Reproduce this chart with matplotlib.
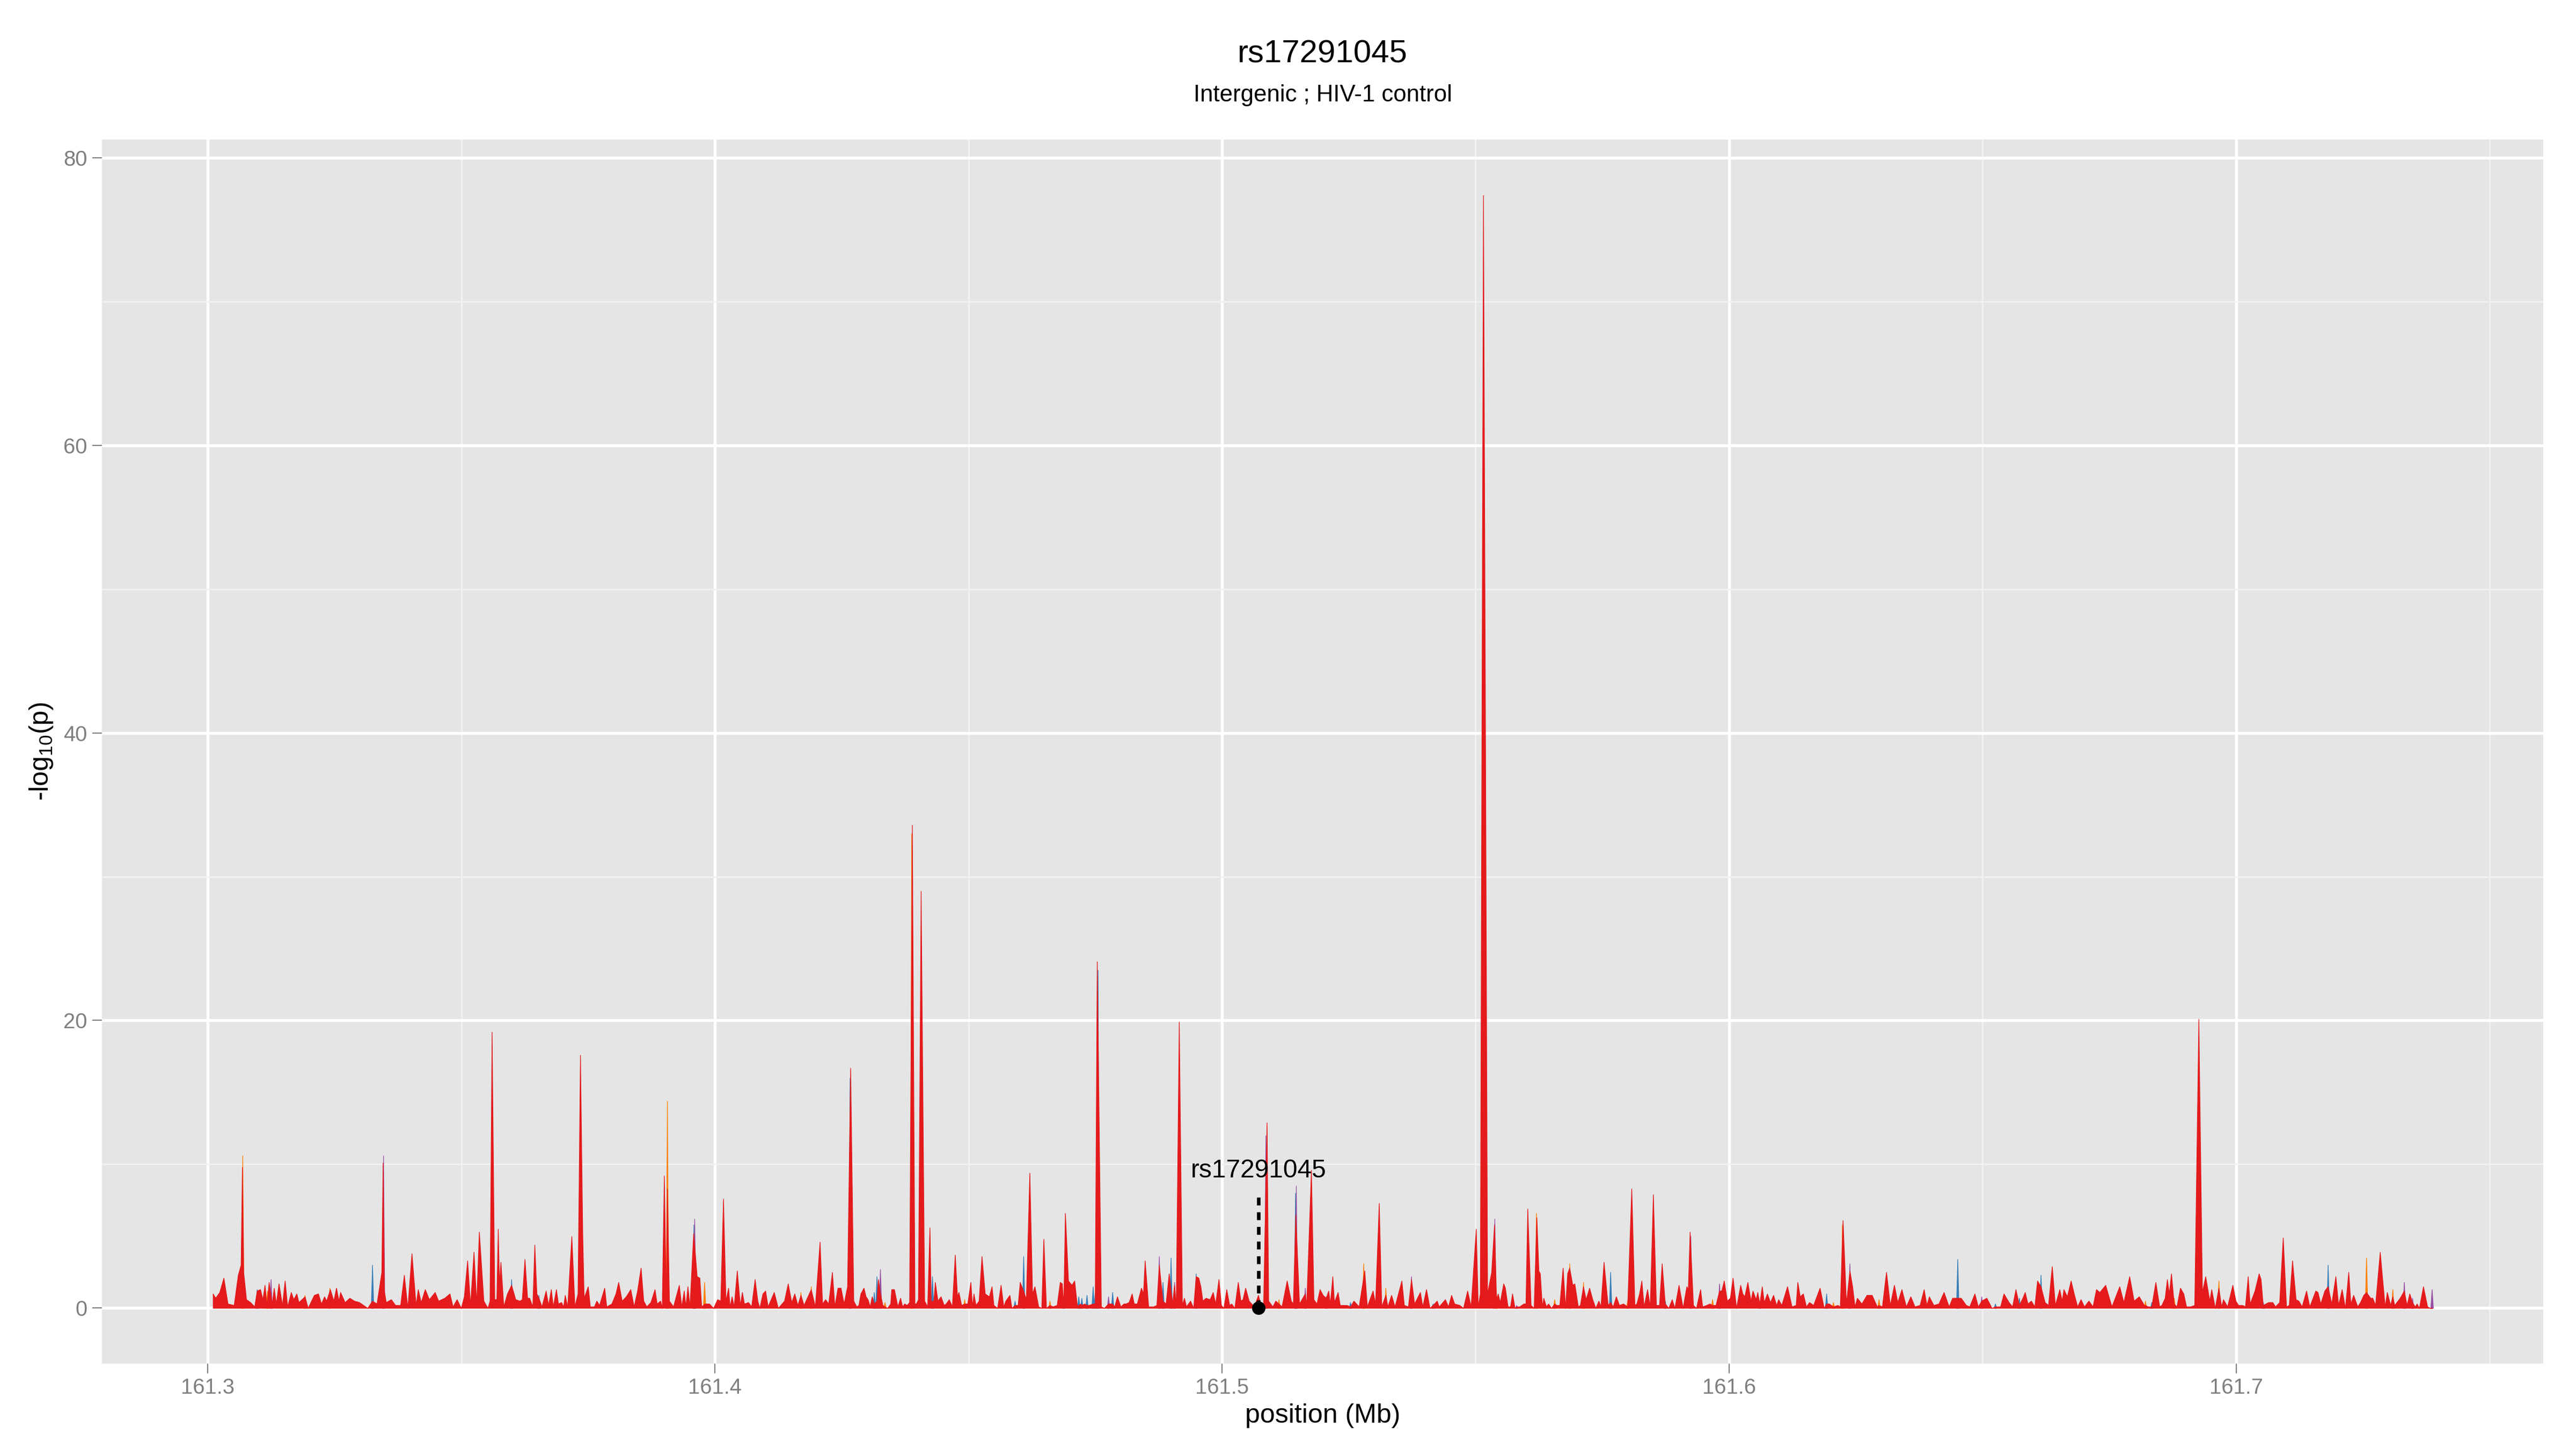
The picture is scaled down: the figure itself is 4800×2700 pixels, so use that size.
import numpy as np
import matplotlib
matplotlib.use("Agg")
import matplotlib.pyplot as plt

plt.rcParams['font.family'] = ['Liberation Sans', 'DejaVu Sans']
plt.rcParams['mathtext.fontset'] = 'custom'
plt.rcParams['mathtext.rm'] = 'Liberation Sans'

# ---------------- data (positions in kb offset from 161.300 Mb) ----------------
base_mb = 161.300

red_kb = [0.99, 1.48, 2.29, 3.10, 3.91, 5.13, 5.94, 6.50, 6.75, 7.00, 7.56, 8.37, 9.18, 9.67, 10.32, 10.80, 11.21,
          11.61, 12.02, 12.63, 13.03, 13.44, 13.97, 14.65, 15.18, 15.67, 16.40, 16.88, 17.49, 17.90, 19.11,
          19.72, 20.94, 21.75, 22.35, 22.96, 23.37, 24.10, 24.79, 25.31, 25.80, 26.12, 27.01, 27.95, 28.84,
          29.85, 30.66, 31.47, 32.41, 33.30, 34.25, 34.50, 34.75, 35.12, 36.13, 36.95, 37.96, 38.69, 39.38, 40.19,
          41.00, 41.44, 42.01, 42.82, 43.63, 44.77, 45.46, 46.67, 47.69, 48.29, 49.10, 49.92, 50.52, 51.17,
          51.74, 52.43, 52.95, 53.48, 54.37, 55.18, 55.59, 55.99, 56.52, 56.93, 57.21, 57.45, 57.74, 58.30,
          59.03, 59.84, 60.66, 61.47, 61.95, 62.48, 63.00, 63.41, 64.02, 64.42, 64.83, 65.23, 65.84, 66.65,
          67.14, 67.67, 68.07, 68.68, 69.08, 69.69, 70.10, 70.42, 70.91, 71.72, 72.33, 72.94, 73.42, 73.87,
          74.15, 74.96, 75.37, 76.18, 76.66, 77.19, 78.20, 78.61, 79.62, 80.43, 80.96, 81.65, 82.46, 83.35,
          84.00, 84.69, 85.38, 85.90, 86.51, 87.32, 88.13, 88.54, 89.23, 89.55, 89.96, 90.36, 90.57, 90.97,
          91.78, 92.92, 93.40, 93.89, 94.21, 94.62, 95.02, 95.75, 96.44, 96.97, 97.33, 97.98, 98.87, 99.68,
          100.49, 101.10, 101.63, 102.12, 102.64, 102.93, 103.33, 103.74, 104.35, 104.95, 105.36, 105.76,
          106.57, 107.18, 107.87, 108.40, 108.80, 109.41, 109.94, 110.43, 111.64, 112.45, 113.67, 114.40,
          115.09, 115.69, 116.30, 116.91, 117.52, 118.94, 119.75, 120.68, 121.17, 121.77, 122.38, 123.11,
          123.60, 124.21, 124.81, 125.42, 126.10, 126.71, 127.32, 127.92, 128.33, 128.73, 129.34, 129.75,
          130.15, 130.56, 130.96, 131.37, 131.90, 132.18, 132.58, 133.07, 133.48, 134.00, 134.61, 134.81,
          135.34, 136.03, 136.56, 136.96, 137.37, 137.85, 138.34, 138.87, 139.39, 139.68, 140.08, 140.61,
          141.30, 141.90, 142.35, 142.60, 142.84, 143.12, 143.41, 143.93, 144.54, 145.15, 145.55, 146.16,
          146.77, 147.34, 147.78, 148.07, 148.59, 149.20, 149.81, 150.42, 150.74, 151.03, 151.43, 152.04,
          152.61, 153.25, 154.07, 154.59, 154.96, 155.69, 156.38, 156.90, 157.31, 158.12, 158.52, 159.13,
          159.74, 160.15, 160.47, 160.83, 161.36, 162.05, 162.58, 163.06, 163.79, 164.40, 164.81, 165.33,
          166.02, 166.63, 167.44, 168.05, 168.45, 168.74, 169.06, 169.67, 170.36, 170.89, 171.41, 171.70,
          172.10, 172.30, 172.91, 173.32, 173.72, 174.53, 174.94, 175.34, 176.15, 176.76, 177.57, 178.38,
          178.79, 179.32, 180.00, 180.61, 181.02, 181.63, 182.23, 182.64, 183.25, 184.06, 184.46, 184.79,
          185.48, 186.49, 187.10, 187.58, 188.31, 188.92, 189.53, 190.20, 190.59, 190.92, 191.52, 192.13,
          192.54, 192.94, 193.75, 194.36, 194.85, 195.37, 195.78, 196.18, 196.79, 197.60, 198.21, 198.70,
          199.35, 199.83, 200.32, 200.89, 201.45, 201.86, 202.47, 203.16, 203.68, 204.09, 204.61, 205.30,
          206.32, 207.13, 207.74, 208.14, 208.83, 209.15, 209.97, 210.57, 211.18, 211.79, 212.80, 213.61,
          214.02, 214.50, 215.23, 216.37, 216.65, 217.58, 218.07, 218.68, 219.29, 219.89, 220.50, 220.99,
          221.31, 221.80, 222.12, 222.85, 223.26, 223.95, 224.64, 225.29, 225.97, 226.99, 228.10, 228.61,
          229.74, 230.23, 230.96, 231.45, 232.26, 232.66, 233.39, 234.08, 235.42, 235.90, 236.71, 237.32,
          237.93, 239.07, 239.55, 240.28, 240.97, 241.58, 242.39, 242.79, 244.01, 244.62, 245.23, 245.83,
          246.85, 247.58, 248.39, 249.08, 250.09, 250.49, 250.90, 251.51, 252.32, 253.13, 253.69, 254.09,
          254.42, 254.82, 255.51, 255.83, 256.36, 256.85, 257.25, 257.74, 258.06, 258.67, 259.48, 259.89,
          260.25, 260.90, 261.51, 262.04, 262.44, 262.72, 263.13, 263.41, 263.94, 264.35, 264.95, 265.56,
          265.97, 266.57, 267.22, 267.71, 268.12, 268.52, 269.13, 269.53, 270.22, 270.63, 271.24, 271.76,
          272.45, 273.06, 273.67, 274.28, 274.68, 275.29, 276.10, 276.59, 277.11, 277.72, 278.33, 279.14,
          279.95, 280.76, 281.37, 281.77, 282.30, 282.75, 283.19, 283.88, 284.41, 285.02, 285.62, 286.23,
          286.76, 287.37, 288.06, 288.74, 289.27, 290.08, 290.89, 291.62, 291.91, 292.27, 292.92, 293.53,
          294.34, 294.74, 295.55, 296.16, 296.69, 297.38, 298.07, 298.51, 299.00, 299.61, 300.21, 300.74,
          301.43, 302.24, 302.65, 303.05, 303.66, 304.27, 304.67, 305.28, 305.61, 306.01, 306.50, 306.90,
          307.51, 308.12, 308.73, 309.33, 309.74, 310.35, 311.48, 312.37, 313.18, 313.51, 313.99, 314.60,
          315.21, 315.82, 316.63, 317.90, 318.71, 319.19, 319.73, 320.54, 321.41, 321.89, 322.43, 323.10,
          323.78, 324.32, 324.79, 325.26, 326.14, 327.16, 328.17, 329.18, 329.52, 330.19, 331.00, 331.75,
          332.56, 333.23, 334.04, 334.92, 335.80, 336.61, 337.62, 338.43, 338.97, 339.45, 340.33, 341.34,
          342.35, 343.36, 344.04, 345.05, 345.73, 346.74, 347.42, 348.43, 349.11, 349.78, 350.79, 351.81,
          352.48, 353.50, 354.17, 355.18, 355.86, 356.53, 357.21, 357.89, 358.36, 358.90, 359.57, 360.25,
          360.79, 361.47, 362.28, 362.95, 363.69, 364.30, 365.18, 365.65, 365.99, 366.67, 367.41, 368.02,
          368.69, 369.37, 370.04, 370.92, 371.73, 372.41, 373.08, 374.23, 375.45, 377.00, 377.81, 378.96,
          379.84, 380.85, 381.86, 382.07, 382.61, 383.31, 384.12, 384.88, 385.31, 385.96, 386.39, 386.77,
          387.20, 387.74, 388.28, 388.98, 389.63, 390.17, 390.98, 391.79, 392.60, 393.30, 393.95, 394.76,
          395.14, 395.84, 396.55, 397.09, 397.46, 398.27, 399.30, 399.90, 400.44, 401.25, 401.79, 402.33,
          402.71, 403.68, 404.49, 404.87, 405.30, 406.38, 407.19, 407.73, 408.54, 409.24, 409.89, 410.43,
          411.08, 411.78, 412.32, 412.97, 413.84, 414.48, 415.67, 416.10, 416.64, 417.45, 418.10, 418.81,
          419.62, 420.16, 420.86, 421.51, 422.16, 422.59, 423.13, 423.94, 424.48, 425.13, 425.67, 426.48,
          426.91, 427.45, 428.37, 429.34, 429.77, 430.42, 430.85, 431.23, 432.31, 433.12, 433.66, 434.20,
          434.74, 435.28, 435.66, 436.09, 436.90, 437.71, 438.25, 438.69]

red_val = [1.0, 0.7, 1.1, 2.1, 0.3, 0.2, 2.3, 3.0, 9.8, 2.5, 0.6, 0.4, 0.1, 1.2, 1.3, 0.6, 1.6,
           0.2, 1.8, 0.3, 1.4, 0.3, 1.7, 0.2, 1.9, 0.1, 1.1, 0.6, 1.0, 0.4, 0.8,
           0.0, 0.9, 1.0, 0.3, 0.8, 0.5, 1.3, 0.5, 1.4, 0.5, 1.1, 0.4, 0.7, 0.5,
           0.4, 0.2, 0.0, 0.5, 0.3, 2.5, 10.1, 1.2, 0.4, 0.6, 0.2, 0.2, 2.3, 0.0, 3.8,
           0.2, 1.3, 0.4, 1.3, 0.6, 1.1, 0.5, 0.7, 1.0, 0.1, 0.6, 0.0, 0.8, 3.3,
           0.2, 3.9, 0.3, 5.3, 0.5, 0.0, 0.5, 19.2, 0.6, 0.6, 5.5, 1.7, 3.2, 0.1,
           1.0, 1.6, 0.6, 0.5, 0.6, 3.4, 0.7, 0.7, 0.1, 4.4, 1.0, 0.7, 0.1, 1.2,
           0.2, 1.3, 0.1, 1.3, 0.3, 0.4, 0.1, 0.9, 0.1, 5.0, 0.1, 1.0, 17.6, 5.1,
           0.7, 1.5, 0.1, 0.1, 0.5, 0.2, 1.4, 0.1, 0.3, 1.0, 1.8, 0.5, 0.8, 1.3,
           0.1, 1.2, 2.8, 0.5, 0.1, 0.4, 1.3, 0.3, 0.5, 0.0, 9.2, 0.5, 8.3, 0.5,
           0.1, 1.6, 0.1, 1.2, 0.1, 1.5, 0.1, 5.2, 2.2, 2.1, 0.1, 0.3, 0.3, 0.0,
           0.6, 0.5, 7.6, 0.5, 1.4, 0.1, 0.8, 0.1, 2.6, 0.2, 1.1, 0.3,
           0.4, 0.1, 2.0, 0.5, 0.0, 1.0, 1.2, 0.1, 1.1, 0.0, 0.5, 1.7,
           0.4, 1.0, 0.2, 0.9, 0.2, 1.3, 0.1, 4.6, 0.3, 0.6, 0.3, 2.5,
           0.1, 1.4, 1.4, 0.3, 1.5, 16.7, 0.5, 0.1, 0.2, 1.0, 1.4, 0.8,
           0.6, 0.1, 0.8, 0.3, 0.5, 2.0, 1.0, 0.2, 0.1, 0.0, 0.3, 1.3,
           1.3, 0.1, 0.7, 0.1, 0.3, 0.2, 0.4, 33.6, 0.3, 0.3, 0.6, 29.0,
           0.5, 0.1, 5.6, 0.4, 0.5, 0.5, 1.8, 0.5, 0.8, 0.2, 0.3, 0.6,
           0.1, 3.7, 0.8, 1.1, 0.2, 0.3, 0.3, 1.8, 0.1, 1.0, 0.2, 0.5,
           3.6, 1.0, 0.8, 1.5, 0.2, 0.0, 1.6, 0.1, 0.5, 0.9, 0.0, 0.2,
           0.2, 1.8, 1.5, 1.2, 0.6, 9.4, 1.0, 1.5, 0.1, 0.0, 4.8, 0.0,
           0.2, 0.1, 0.2, 1.8, 1.7, 0.2, 6.6, 1.9, 1.6, 1.9, 0.2, 0.2,
           0.3, 0.2, 0.3, 0.2, 0.2, 0.3, 0.3, 24.1, 0.1, 0.0, 0.3, 0.3,
           0.1, 0.8, 0.1, 0.3, 0.3, 0.4, 1.0, 0.3, 0.3, 1.4, 1.0, 3.3,
           0.1, 0.1, 0.2, 3.0, 0.5, 0.3, 2.4, 0.3, 1.6, 0.1, 19.9, 0.2,
           0.7, 0.1, 0.5, 0.0, 2.2, 2.1, 1.5, 0.5, 0.7, 0.6, 1.1, 0.3,
           2.0, 0.2, 0.0, 1.3, 0.2, 0.3, 0.0, 1.8, 0.5, 0.6, 1.4, 0.5,
           0.1, 0.9, 0.1, 0.0, 12.9, 0.5, 0.1, 0.5, 0.3, 0.1, 1.9, 0.5,
           0.3, 6.5, 0.3, 1.0, 0.2, 9.6, 0.6, 0.3, 1.3, 0.9, 0.7, 1.2,
           0.3, 2.2, 0.4, 1.1, 0.2, 0.2, 0.2, 0.1, 0.5, 0.1, 2.6, 0.1,
           1.2, 0.3, 7.3, 0.1, 0.9, 0.1, 0.9, 0.1, 1.9, 0.2, 0.1, 2.0,
           0.3, 1.1, 0.1, 1.3, 0.0, 0.2, 0.5, 0.1, 0.6, 0.1, 0.9, 0.3,
           0.2, 0.0, 1.2, 0.1, 5.5, 0.1, 1.0, 77.4, 1.0, 2.5, 5.8, 0.6,
           1.0, 0.4, 1.7, 1.4, 0.1, 0.1, 1.0, 0.0, 0.1, 0.1, 0.3, 0.3,
           6.9, 0.2, 0.0, 6.3, 2.6, 2.4, 0.1, 0.7, 0.1, 0.3, 0.0, 0.3,
           0.2, 0.2, 2.8, 0.0, 2.4, 2.8, 1.6, 1.7, 0.1, 0.2, 1.5, 0.6,
           1.4, 0.6, 0.0, 0.5, 0.1, 3.2, 0.2, 0.4, 0.1, 0.8, 0.2, 0.3,
           0.1, 8.3, 0.2, 0.3, 1.0, 1.9, 0.1, 1.3, 0.1, 7.9, 0.2, 0.2,
           3.1, 0.3, 0.0, 0.6, 0.0, 1.6, 0.0, 1.5, 1.3, 5.3, 0.2, 0.0,
           1.3, 0.1, 0.2, 0.3, 0.2, 0.2, 1.2, 1.2, 1.9, 0.5, 0.7, 2.1,
           0.0, 1.6, 1.0, 0.8, 1.8, 0.5, 1.2, 0.6, 1.1, 0.3, 1.5, 0.4,
           1.0, 0.4, 0.9, 0.2, 0.6, 0.2, 1.5, 0.1, 0.2, 1.8, 0.8, 1.0,
           0.1, 0.4, 0.2, 1.4, 0.0, 0.3, 0.3, 0.1, 0.2, 0.1, 6.1, 0.3,
           2.6, 1.5, 0.1, 0.7, 0.3, 0.9, 0.9, 0.1, 0.2, 0.1, 2.5, 0.2,
           1.6, 0.4, 1.3, 0.1, 0.8, 0.1, 0.2, 1.3, 0.2, 0.8, 0.2, 0.3,
           1.1, 0.1, 0.7, 0.7, 0.7, 0.2, 0.1, 1.0, 0.1, 0.5, 0.7, 0.0,
           0.1, 0.1, 1.0, 0.4, 0.1, 1.3, 0.2, 0.7, 1.1, 0.3, 0.5, 0.1,
           1.9, 1.5, 0.4, 0.2, 2.9, 0.2, 1.3, 0.5, 1.3, 0.8, 1.9, 1.0,
           0.1, 0.6, 0.1, 0.5, 0.1, 1.3, 1.1, 1.6, 0.1, 1.5, 0.4, 2.2,
           0.5, 0.8, 0.2, 0.2, 0.1, 0.1, 1.8, 0.1, 0.2, 0.7, 2.0, 1.0,
           2.4, 0.3, 0.1, 1.4, 1.0, 0.1, 0.1, 0.2, 20.1, 1.1, 2.2, 0.5,
           1.3, 0.0, 1.4, 0.1, 0.6, 0.1, 1.6, 0.5, 0.2, 0.2, 0.1, 2.2,
           0.3, 1.2, 2.4, 2.0, 0.2, 0.4, 0.4, 0.1, 0.4, 4.9, 0.1, 0.2,
           3.3, 0.6, 0.5, 0.1, 1.2, 0.1, 1.2, 1.1, 0.3, 1.2, 1.5, 0.3,
           2.2, 0.2, 1.3, 0.0, 2.5, 0.3, 0.9, 0.1, 0.4, 0.9, 1.1, 0.7,
           0.7, 0.2, 3.9, 0.1, 1.1, 0.2, 0.8, 0.2, 0.7, 1.2, 0.2, 1.0,
           0.4, 0.1, 0.3, 0.0, 1.5, 0.1, 0.0, 0.0]

orange_kb = [6.82, 11.7, 19.1, 24.0, 90.57, 97.9, 116.9, 118.94, 133.48, 138.75, 149.2, 166.02,
             211.18, 227.9, 232.26, 254.09, 261.95, 265.56, 268.52, 271.24, 279.95, 296.69, 320.54,
             322.3, 329.52, 382.07, 387.74, 396.55, 425.67, 430.85]
orange_val = [10.6, 1.2, 0.9, 1.4, 14.4, 1.8, 1.1, 1.5, 0.4, 33.0, 0.6, 0.5,
              0.6, 3.1, 1.4, 0.9, 6.6, 0.6, 3.1, 1.8, 0.5, 0.6, 0.4,
              5.8, 0.6, 0.5, 0.7, 1.9, 3.5, 1.3]

blue_kb = [9.67, 32.41, 59.84, 65.23, 95.8, 126.6, 131.37, 131.9, 142.84, 159.13, 160.83, 168.74,
           171.7, 172.3, 173.32, 174.53, 174.94, 175.5, 178.38, 188.31, 189.9, 194.85, 214.45,
           225.29, 241.58, 276.59, 287.37, 306.01, 319.19, 345.05, 352.48, 357.21, 361.47, 383.31,
           405.3, 418.1]
blue_val = [1.3, 3.0, 2.0, 0.9, 5.8, 16.0, 1.1, 2.2, 2.2, 0.5, 3.6, 0.3,
            0.8, 0.7, 0.9, 1.5, 1.0, 23.5, 1.1, 1.8, 3.5, 2.4, 8.0,
            0.4, 0.3, 2.5, 0.5, 0.5, 1.0, 3.4, 0.3, 0.7, 2.3, 0.4,
            0.4, 3.0]

purple_kb = [12.4, 34.58, 95.95, 132.58, 177.57, 187.58, 190.59, 208.6, 214.6, 216.37, 220.5,
             237.32, 253.75, 258.06, 292.4, 298.07, 323.78, 349.78, 433.12, 434.74, 438.6]
purple_val = [2.0, 10.6, 6.2, 2.7, 0.8, 3.6, 1.8, 12.0, 8.5, 1.4, 0.8,
              2.2, 6.2, 0.2, 5.0, 1.7, 3.1, 0.8, 1.8, 0.7, 1.3]

snp_name = "rs17291045"
snp_pos_mb = 161.5072
snp_line_top = 7.7
snp_label_y = 9.55

title = "rs17291045"
subtitle = "Intergenic ; HIV-1 control"
x_ticks = [161.3, 161.4, 161.5, 161.6, 161.7]
y_ticks = [0, 20, 40, 60, 80]

# ---------------- styling ----------------
C_RED, C_BLUE, C_PURPLE, C_ORANGE = "#E41A1C", "#377EB8", "#984EA3", "#FF7F00"
spike_half_kb = 0.25

def to_mb(kb):
    return base_mb + np.asarray(kb) / 1000.0

fig = plt.figure(figsize=(16, 9), dpi=300)
W, H = 4800, 2700
pl, pr, pt, pb = 190, 4739, 260, 2541
ax = fig.add_axes([pl / W, 1 - pb / H, (pr - pl) / W, (pb - pt) / H])
ax.set_facecolor("#E5E5E5")

rx = to_mb(red_kb)
ry = np.asarray(red_val)
xmin, xmax = rx.min(), rx.max()
xr = xmax - xmin
ymax = ry.max()
ax.set_xlim(xmin - 0.05 * xr, xmax + 0.05 * xr)
ax.set_ylim(-0.05 * ymax, ymax * 1.05)

ax.set_xticks(x_ticks)
ax.set_xticklabels([f"{v:.1f}" for v in x_ticks])
ax.set_xticks([161.35, 161.45, 161.55, 161.65, 161.75], minor=True)
ax.set_yticks(y_ticks)
ax.set_yticks([10, 30, 50, 70], minor=True)
ax.grid(which="major", color="white", linewidth=1.3)
ax.grid(which="minor", color="#F2F2F2", linewidth=0.65)
ax.set_axisbelow(True)
for s in ax.spines.values():
    s.set_visible(False)
ax.tick_params(which="major", length=4.25, width=0.5, color="#7F7F7F",
               labelcolor="#7F7F7F", labelsize=9.6)
ax.tick_params(axis="y", which="major", pad=2.4)
ax.tick_params(axis="x", which="major", pad=2.0)
ax.tick_params(which="minor", length=0)

def draw_spikes(kbs, vals, color):
    for k, v in zip(kbs, vals):
        xs = to_mb([k - spike_half_kb, k, k + spike_half_kb])
        ax.fill_between(xs, 0, [0, v, 0], color=color, linewidth=0.3, edgecolor=color, zorder=2)

draw_spikes(blue_kb, blue_val, C_BLUE)
draw_spikes(purple_kb, purple_val, C_PURPLE)
draw_spikes(orange_kb, orange_val, C_ORANGE)
ax.fill_between(rx, 0, ry, facecolor=C_RED, edgecolor=C_RED, linewidth=0.3, zorder=3)

# SNP marker
ax.plot([snp_pos_mb, snp_pos_mb], [0, snp_line_top], color="black", linewidth=1.6,
        linestyle=(0, (2.2, 1.9)), zorder=5)
ax.plot([snp_pos_mb], [0], "o", color="black", markersize=5, zorder=6)
ax.text(snp_pos_mb, snp_label_y, snp_name, ha="center", va="center", fontsize=11.5,
        color="black", zorder=6)

# titles and axis labels
cx = (pl + pr) / 2 / W
fig.text(cx, 1 - 101 / H, title, ha="center", va="center", fontsize=14.4, color="black")
fig.text(cx, 1 - 178 / H, subtitle, ha="center", va="center", fontsize=10.5, color="black")
fig.text(cx, 1 - 2638 / H, "position (Mb)", ha="center", va="center", fontsize=12, color="black")
fig.text(77 / W, 1 - 1400 / H, r"-log$_{\mathrm{10}}$(p)", ha="center", va="center",
         rotation=90, fontsize=12, color="black")

fig.savefig("out.png", dpi=300, facecolor="white")
